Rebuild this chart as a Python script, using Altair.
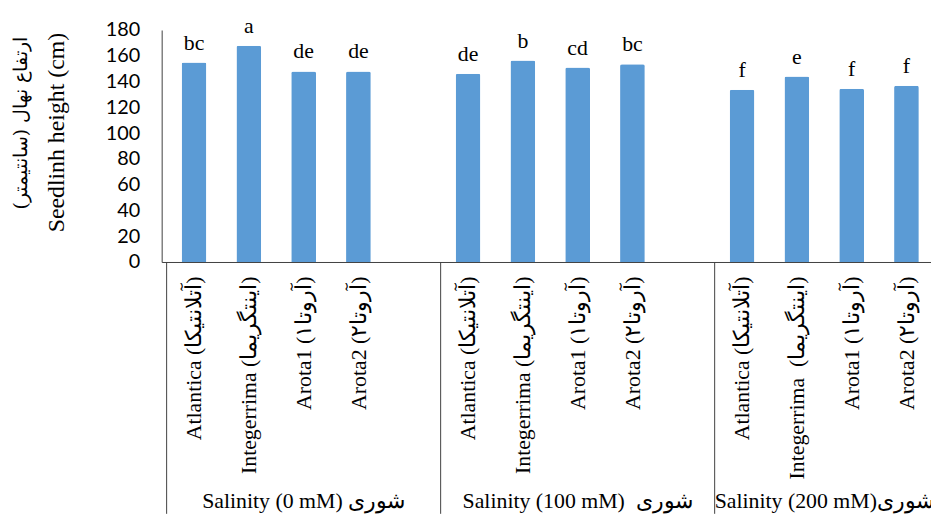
import json
import altair as alt
import pandas as pd

# ---------------- data ----------------
groups = ["Salinity (0 mM) شوری", "Salinity (100 mM)\u00a0 شوری", "Salinity (200 mM)شوری"]
varieties = ["Atlantica (آتلانتیکا)", "Integerrima (اینتگریما)", "Arota1 (آروتا۱)", "Arota2 (آروتا۲)"]
varieties_g3 = ["Atlantica (آتلانتیکا)", "Integerrima\u00a0 (اینتگریما)", "Arota1 (آروتا۱)", "Arota2 (آروتا۲)"]
heights = [154.8, 167.7, 147.9, 147.9,
           146.1, 156.3, 150.9, 153.5,
           133.7, 144.0, 134.5, 136.8]
letters = ["bc", "a", "de", "de",
           "de", "b", "cd", "bc",
           "f", "e", "f", "f"]
y_ticks = [0, 20, 40, 60, 80, 100, 120, 140, 160, 180]
y_title_en = "Seedlinh height (cm)"
y_title_fa = "ارتفاع نهال (سانتیمتر)\u200f"

SLOTS_PER_GROUP = 5          # 4 bars + 1 empty category between groups
N_SLOTS = 14                 # last group has no trailing gap
VISIBLE_SLOTS = 776 / 56     # the chart is cut at the right edge

rows = []
for g, grp in enumerate(groups):
    names = varieties_g3 if g == 2 else varieties
    for i, name in enumerate(names):
        k = g * 4 + i
        rows.append({"group": grp, "variety": name,
                     "pos": g * SLOTS_PER_GROUP + i + 0.5,
                     "height": heights[k], "letter": letters[k]})
df = pd.DataFrame(rows)

slot_labels = []
for s in range(N_SLOTS):
    g, i = divmod(s, SLOTS_PER_GROUP)
    names = varieties_g3 if g == 2 else varieties
    slot_labels.append(names[i] if i < 4 else "")

div_df = pd.DataFrame({"pos": [g * SLOTS_PER_GROUP for g in range(len(groups))]})
grp_df = pd.DataFrame({
    "group": groups,
    "pos": [(g * SLOTS_PER_GROUP + min(g * SLOTS_PER_GROUP + SLOTS_PER_GROUP, N_SLOTS)) / 2
            for g in range(len(groups))],
})

SERIF = "Liberation Serif"
LINE = "#404040"

xscale = alt.Scale(domain=[0, VISIBLE_SLOTS], nice=False, zero=False)
yscale = alt.Scale(domain=[0, 180], nice=False)

x_axis = alt.Axis(
    values=list(df["pos"]),
    labelExpr=json.dumps(slot_labels, ensure_ascii=False) + "[floor(datum.value)]",
    labelAngle=270, labelFont=SERIF, labelFontSize=22, labelColor="#000000",
    labelPadding=14, ticks=False, grid=False, domainColor=LINE, domainWidth=1,
    title=None, labelOverlap=False, labelFlush=False, labelLimit=400)
y_axis = alt.Axis(
    values=y_ticks, labelFont="Lato", labelFontSize=20, labelColor="#000000",
    labelPadding=22, ticks=False, grid=False, domainColor=LINE, domainWidth=1,
    title=y_title_en, titleFont=SERIF, titleFontSize=24, titleFontWeight="normal",
    titleColor="#000000", titleAngle=270, titleX=-106, titleY=103,
    titleAlign="center", titleBaseline="middle")

bars = alt.Chart(df).mark_bar(
    size=25, color="#5B9BD5", cornerRadiusTopLeft=2, cornerRadiusTopRight=2
).encode(
    x=alt.X("pos:Q", scale=xscale, axis=x_axis),
    y=alt.Y("height:Q", scale=yscale, axis=y_axis),
)

labels = alt.Chart(df).mark_text(
    font=SERIF, fontSize=22, color="#000000", baseline="alphabetic", dy=-13
).encode(
    x=alt.X("pos:Q", scale=xscale, axis=x_axis),
    y=alt.Y("height:Q", scale=yscale, axis=y_axis),
    text="letter:N",
)

dividers = alt.Chart(div_df).mark_rule(color=LINE, strokeWidth=1).encode(
    x=alt.X("pos:Q", scale=xscale, axis=x_axis),
    y=alt.value(234),
    y2=alt.value(488),
)

group_text = alt.Chart(grp_df).mark_text(
    font=SERIF, fontSize=22, color="#000000", baseline="alphabetic", align="center"
).encode(
    x=alt.X("pos:Q", scale=xscale, axis=x_axis),
    y=alt.value(482),
    text="group:N",
)

fa_title = alt.Chart(pd.DataFrame({"t": [y_title_fa]})).mark_text(
    font="DejaVu Serif", fontSize=19, color="#000000", angle=270, align="center", baseline="middle"
).encode(
    x=alt.value(-142),
    y=alt.value(94),
    text="t:N",
)

chart = alt.layer(bars, labels, dividers, group_text, fa_title).properties(
    width=776, height=234,
    autosize=alt.AutoSizeParams(type="none"),
    padding={"left": 155, "top": 20, "right": 0, "bottom": 254},
    background="white",
).configure_view(stroke=None)

chart.save("out.html", embed_options={"renderer": "svg", "actions": False})
